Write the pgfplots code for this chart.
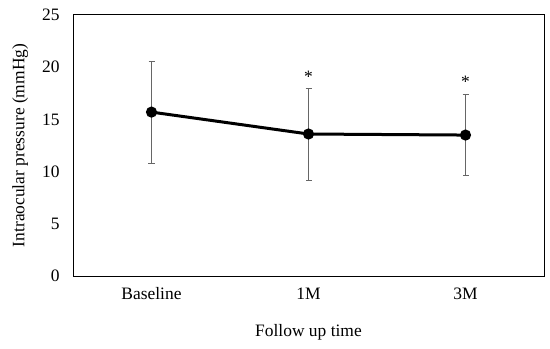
\documentclass[border=0pt]{standalone}
\usepackage{pgfplots}
\pgfplotsset{compat=1.18}
\usepackage{fontspec}
\setmainfont{Liberation Serif}
\begin{document}
\begin{tikzpicture}[font=\fontsize{17.5}{20}\selectfont]
\useasboundingbox (0,0) rectangle (550bp,349bp);
\begin{axis}[
  at={(73bp,73bp)}, anchor=south west,
  scale only axis, width=471bp, height=261bp,
  xmin=-0.5, xmax=2.5, ymin=0, ymax=25,
  xtick={0,1,2}, xticklabels={Baseline,1M,3M},
  ytick={0,5,10,15,20,25},
  major tick length=0pt,
  axis line style={black, line width=1bp},
  /pgf/number format/assume math mode=true,
  tick label style={font=\fontsize{17.5}{20}\selectfont},
  label style={font=\fontsize{17.5}{20}\selectfont},
  yticklabel style={xshift=-10bp},
  xticklabel style={yshift=-8bp},
  xlabel={Follow up time},
  ylabel={Intraocular pressure (mmHg)},
  xlabel style={yshift=-18bp},
  ylabel style={yshift=7bp},
  clip=false,
]
\addplot[black, line width=3bp, mark=*, mark size=4bp,
  error bars/.cd, y dir=both, y explicit,
  error bar style={gray!80!black, line width=0.8bp},
  error mark options={rotate=90, mark size=3bp, gray!80!black, line width=0.8bp}]
  coordinates {
  (0,15.7) +- (0,4.9)
  (1,13.6) +- (0,4.4)
  (2,13.5) +- (0,3.9)
};
\node[anchor=south] at (axis cs:1,18.2) {*};
\node[anchor=south] at (axis cs:2,17.7) {*};
\end{axis}
\end{tikzpicture}
\end{document}
